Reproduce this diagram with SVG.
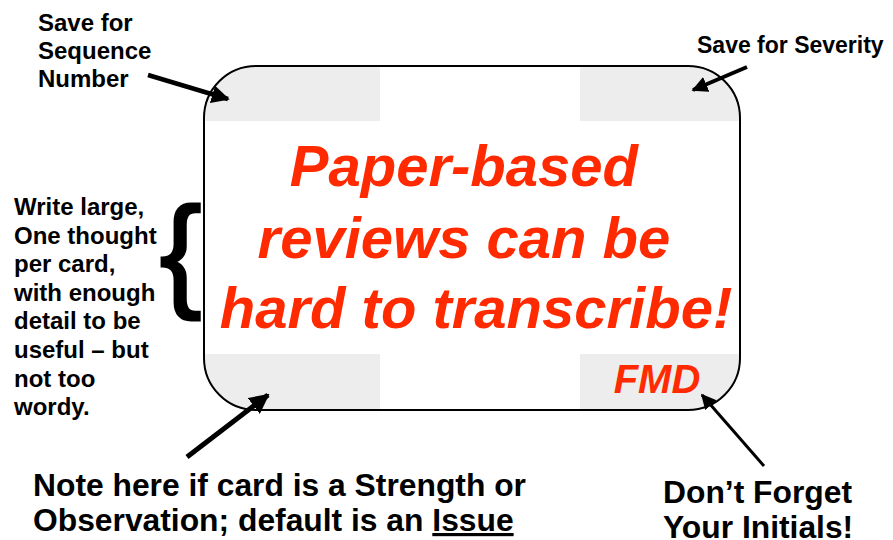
<svg xmlns="http://www.w3.org/2000/svg" width="893" height="540" viewBox="0 0 893 540">
  <style>
    .note { font-family: "Liberation Sans", Arial, sans-serif; font-weight: bold; fill: #000; }
    .small { font-size: 24px; }
    .big { font-size: 31.8px; }
    .red { font-family: "Liberation Sans", Arial, sans-serif; font-weight: bold; font-style: italic; fill: #FF2A00; }
    .zone { fill: #EDEDED; }
    .arrow { stroke: #000; stroke-linecap: butt; fill: none; }
  </style>
  <defs>
    <clipPath id="cardClip">
      <rect x="204" y="66" width="536" height="344" rx="52" ry="52"/>
    </clipPath>
    <marker id="head" viewBox="0 0 10 10" refX="9" refY="5" markerWidth="4" markerHeight="4" orient="auto" markerUnits="strokeWidth">
      <path d="M0,0 L10,5 L0,10 z" fill="#000"/>
    </marker>
    <marker id="headThin" viewBox="0 0 10 10" refX="9" refY="5" markerWidth="5" markerHeight="5" orient="auto" markerUnits="strokeWidth">
      <path d="M0,0 L10,5 L0,10 z" fill="#000"/>
    </marker>
  </defs>

  <rect width="893" height="540" fill="#fff"/>

  <!-- the index card with its four reserved corner zones -->
  <g id="card">
    <rect x="204" y="66" width="536" height="344" rx="52" ry="52" fill="#fff"/>
    <g clip-path="url(#cardClip)">
      <rect class="zone" x="204" y="66" width="176" height="55"/>
      <rect class="zone" x="580" y="66" width="160" height="55"/>
      <rect class="zone" x="204" y="354" width="176" height="56"/>
      <rect class="zone" x="580" y="354" width="160" height="56"/>
    </g>
    <rect x="204" y="66" width="536" height="344" rx="52" ry="52" fill="none" stroke="#000" stroke-width="2"/>
    <text class="red" font-size="58" text-anchor="middle">
      <tspan x="472" y="186">Paper-based</tspan>
      <tspan x="472" y="258">reviews can be</tspan>
      <tspan x="476" y="328">hard to transcribe!</tspan>
    </text>
    <text class="red" x="657" y="393" font-size="40" text-anchor="middle">FMD</text>
  </g>

  <g id="label-sequence">
    <text class="note small">
      <tspan x="38" y="31">Save for</tspan>
      <tspan x="38" y="59">Sequence</tspan>
      <tspan x="38" y="87">Number</tspan>
    </text>
  </g>

  <g id="label-severity">
    <text class="note" font-size="23" x="697" y="53">Save for Severity</text>
  </g>

  <g id="label-writing">
    <text class="note small">
      <tspan x="14" y="215">Write large,</tspan>
      <tspan x="14" y="243.6">One thought</tspan>
      <tspan x="14" y="272.2">per card,</tspan>
      <tspan x="14" y="300.8">with enough</tspan>
      <tspan x="14" y="329.4">detail to be</tspan>
      <tspan x="14" y="358">useful – but</tspan>
      <tspan x="14" y="386.6">not too</tspan>
      <tspan x="14" y="415.2">wordy.</tspan>
    </text>
    <text x="160" y="294" font-family="Liberation Sans, Arial, sans-serif" font-size="124" fill="#000" stroke="#000" stroke-width="3">{</text>
  </g>

  <g id="label-type">
    <text class="note big">
      <tspan x="33" y="496">Note here if card is a Strength or</tspan>
      <tspan x="33" y="531">Observation; default is an <tspan text-decoration="underline">Issue</tspan></tspan>
    </text>
  </g>

  <g id="label-initials">
    <text class="note big">
      <tspan x="663" y="503">Don’t Forget</tspan>
      <tspan x="663" y="538">Your Initials!</tspan>
    </text>
  </g>

  <!-- pointers from the notes to the card zones -->
  <g id="connectors">
    <line class="arrow" x1="148" y1="75" x2="228" y2="99" stroke-width="4.5" marker-end="url(#head)"/>
    <line class="arrow" x1="747" y1="67" x2="693" y2="90" stroke-width="4" marker-end="url(#head)"/>
    <line class="arrow" x1="187" y1="457" x2="268" y2="395" stroke-width="5" marker-end="url(#head)"/>
    <line class="arrow" x1="764" y1="466" x2="702" y2="395" stroke-width="3" marker-end="url(#headThin)"/>
  </g>
</svg>
